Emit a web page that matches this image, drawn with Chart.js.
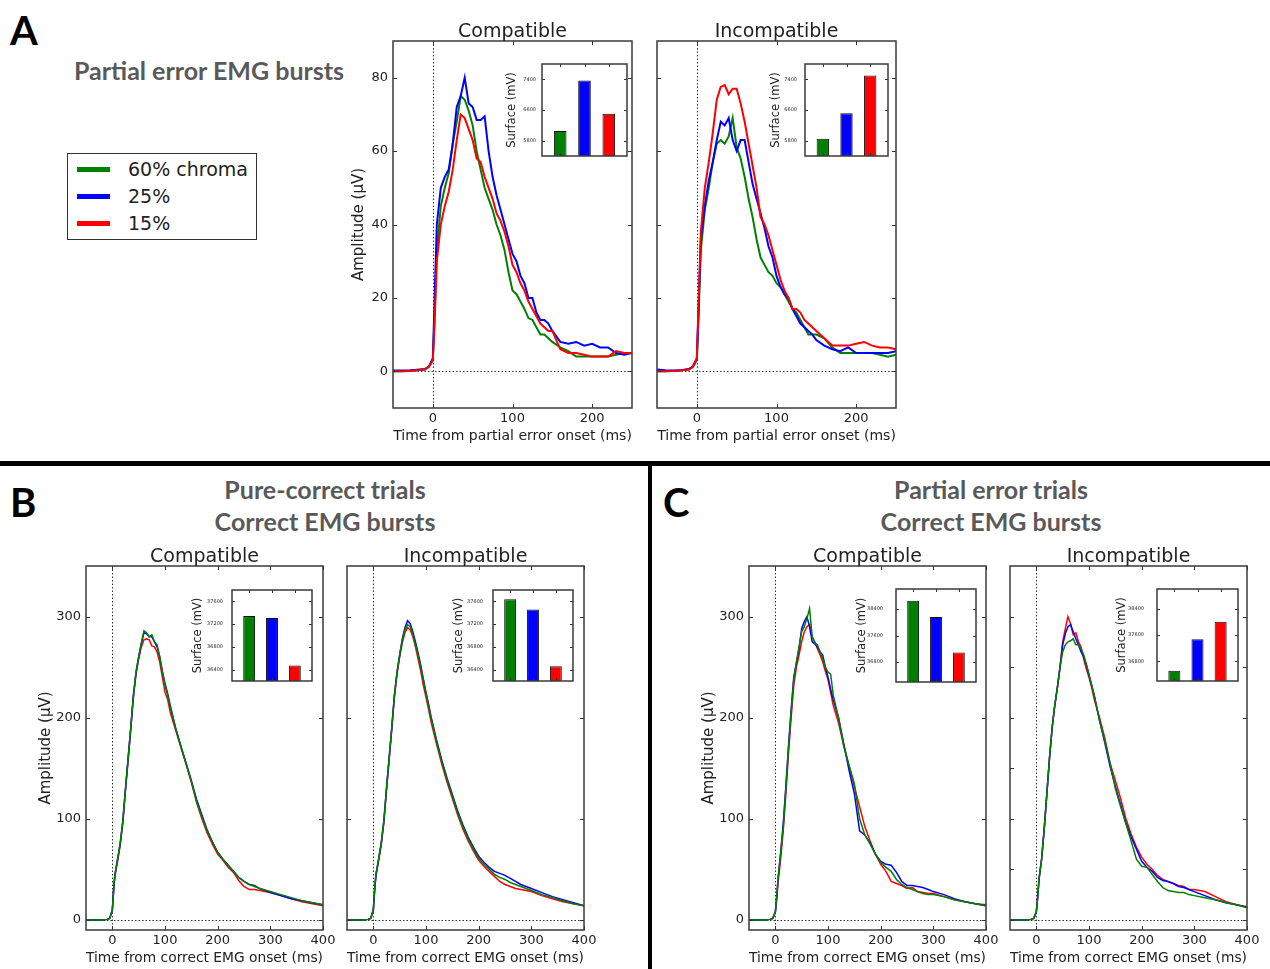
<!DOCTYPE html>
<html>
<head>
<meta charset="utf-8">
<script src="https://cdn.jsdelivr.net/npm/chart.js@4.4.0/dist/chart.umd.min.js"></script>
<style>
  body { margin: 0; background: #fff; width: 1270px; height: 969px; position: relative; overflow: hidden; font-family: 'DejaVu Sans', sans-serif; }
  canvas { position: absolute; }
  .txt { position: absolute; white-space: nowrap; color: #222; transform: translate(-50%, -50%); }
  .letter { position: absolute; font-family: Lato, sans-serif; font-weight: bold; font-size: 40px; color: #000; line-height: 1; }
  .head { position: absolute; white-space: nowrap; font-family: Lato, sans-serif; font-weight: bold; font-size: 25px; color: #595959; transform: translate(-50%, -50%); }
  .bar { position: absolute; background: #000; }
  #legend { position: absolute; left: 67px; top: 153px; width: 188px; height: 85px; border: 1.5px solid #333; }
  .lg { position: absolute; left: 9px; width: 33px; height: 5px; }
  .lt { position: absolute; left: 60px; font-size: 19px; color: #222; transform: translateY(-50%); }
</style>
</head>
<body>

<div class="letter" style="left:10px;top:10px">A</div>
<div class="letter" style="left:10px;top:482px">B</div>
<div class="letter" style="left:663px;top:482px">C</div>

<div class="head" style="left:209px;top:70px">Partial error EMG bursts</div>
<div class="head" style="left:325px;top:489px">Pure-correct trials</div>
<div class="head" style="left:325px;top:521px">Correct EMG bursts</div>
<div class="head" style="left:991px;top:489px">Partial error trials</div>
<div class="head" style="left:991px;top:521px">Correct EMG bursts</div>

<div class="bar" style="left:0;top:461px;width:1270px;height:5px"></div>
<div class="bar" style="left:648px;top:461px;width:4px;height:508px"></div>

<div id="legend"></div>

<script>
// ---- data ----
const conditions = ['60% chroma', '25%', '15%'];
const colors = ['#008000', '#0000ff', '#ff0000'];
const panelTitles = ['Compatible', 'Incompatible'];

// panel A: time (ms) from partial error onset
const tA = [-50,-40,-30,-20,-10,-5,0,2,5,10,15,20,25,30,35,40,45,50,55,60,65,70,75,80,85,90,95,100,105,110,115,120,125,130,135,140,145,150,160,170,180,190,200,210,220,230,240,250];
const aCompGreen = [0,0,0.1,0.3,0.5,1.2,3,14,33,45,50,54,62,68,75,74,71,67,60,55,50,47,44,40,37,33,27,22,21,19,17,14.5,14,12,10,10,9,8,6.5,5.5,4,4,4,4,4,4.5,5,5];
const aCompBlue = [0.2,0.2,0.2,0.4,0.6,1.3,3.5,18,40,50,53,55,62,72,75,80,73,72,68.5,68.5,69.5,60,53,48,44,40,36,32,30,26,24,20,20,16,14,14,13,11,8,7.5,8,7,7.5,6.5,6.5,5,4.5,5];
const aCompRed = [0,0,0.1,0.3,0.5,1.2,3,12,30,40,45,49,55,63,70,69,66,63,58,57,53,50,47,43,41,38,34,29,27,24,22,19,17,15,13,12,11,11,6,5,5,4.5,4,4,4,5.5,5,5];
const aIncGreen = [0,0,0.1,0.3,0.5,1.2,3,14,33,44,50,57,62,63,62,64,69,61,58,53,47,42,36,31,29,27,26,24,23,21,19,17,16,14,12,10,10,10,9,6.5,5,5,5,5,5,4.5,4,4.5];
const aIncBlue = [0.5,0.3,0.2,0.3,0.6,1.3,3.5,16,36,45,52,57,63,68,67,69,63,60,63,63,57,51,47,43,39,34,31,26,23,21,20,17,15,13,12,11,10,8.5,7,6,5.5,6.5,5,5,5,5,5,5.5];
const aIncRed = [0,0,0.1,0.3,0.5,1.2,3.5,17,38,50,57,65,74,77.5,78,75.5,77,77,73,68,62,56,50,42,40,37,33,29,25,22,20,17,17,16,14,13,12,11,9,7,7,7,7.5,8,7,6.5,6.5,6];

// panels B and C: time (ms) from correct EMG onset
const tBC = [-50,-40,-30,-20,-10,-5,0,3,5,10,15,20,25,30,35,40,45,50,55,60,65,70,75,80,85,90,95,100,105,110,120,130,140,150,160,170,180,190,200,210,220,230,240,250,260,270,280,290,300,320,340,360,380,400];
const bCompGreen = [0,0,0,0,0.5,1.5,10,35,45,60,76,98,130,160,190,222,245,260,274,286,284,280,282,275,272,260,245,232,222,210,190,172,155,137,117,102,88,77,67,60,54,48,42,38,35,33,31,29.5,28,25,22,19,17,15];
const bCompBlue = [0,0,0,0,0.5,1.5,10,34,45,60,76,98,130,160,190,222,245,260,273,284,283,280,280,275,270,260,246,234,224,212,190,172,155,138,119,104,89,77,67,60,54,48,42,38,35,34,31,29,27,24,21,19,17,15];
const bCompRed = [0,0,0,0,0.5,1.5,9,32,43,58,74,96,128,158,188,220,243,258,270,277,278,277,271,270,265,255,240,225,218,205,188,171,154,136,116,100,86,75,65,59,52,47,39,33,30,30,29,28,27,24,21,18,16,14];
const bIncGreen = [0,0,0,0,0.5,1.5,10,35,45,60,76,98,130,160,190,222,245,262,277,287,292,290,282,272,262,250,237,224,212,198,176,156,138,122,106,92,80,70,61,55,50,45,42,40,37,35,33,31,29,25,22,19,16,14];
const bIncBlue = [0,0,0,0,0.5,1.5,10,34,45,60,76,98,130,160,190,222,245,262,278,289,296,293,285,275,264,252,238,225,213,200,178,158,140,124,108,94,82,72,63,57,52,48,46,44,41,38,35,33,31,27,23,20,17,14];
const bIncRed = [0,0,0,0,0.5,1.5,9,32,43,58,74,96,128,158,188,220,243,260,274,284,289,287,280,270,258,246,232,220,208,195,174,154,136,120,104,90,78,68,59,53,48,43,38,35,33,31,30,29,28,24,21,18,16,14];
const cCompGreen = [0,0,0,0,0.5,1.5,8,25,40,65,92,130,170,205,238,255,270,285,290,298,308,280,274,272,265,258,250,245,243,222,200,172,153,135,100,84,75,65,57,52,48,40,35,32,30,28,26,25,25,23,20,18,16,14];
const cCompBlue = [0,0,0,0,0.5,1.5,8,25,40,66,95,132,172,208,240,254,268,288,295,300,290,275,273,270,265,262,250,240,228,218,200,174,148,125,88,84,76,65,58,55,54,47,38,34,34,33,32,30,28,25,21,18,16,14];
const cCompRed = [0,0,0,0,0.5,1.5,7,22,36,60,88,125,165,200,232,250,262,275,285,290,292,280,275,268,262,255,246,238,225,212,195,172,152,132,112,92,78,65,55,48,38,36,34,31,32,28,27,26,26,23,20,18,16,15];
const cIncGreen = [0,0,0,0,0.5,1.5,8,25,40,60,90,125,160,190,212,230,250,265,272,275,276,278,272,272,268,262,253,243,232,222,197,177,155,130,112,95,78,60,53,52,45,38,32,29,28,27,27,25,24,22,20,17,15,12];
const cIncBlue = [0,0,0,0,0.5,1.5,8,25,40,60,90,125,160,190,212,230,250,272,283,290,292,285,278,272,265,260,252,242,232,222,197,175,152,132,114,96,82,70,58,52,48,42,39,38,36,33,32,30,28,24,20,17,15,12.5];
const cIncRed = [0,0,0,0,0.5,1.5,8,25,40,60,90,125,160,190,212,230,250,275,288,300,293,282,284,275,270,258,248,240,230,218,200,180,155,138,120,100,85,72,62,55,50,44,40,38,36,34,33,30,30,28,23,18,15,13];

// inset bars: surface (mV) per condition
const surfACompatible = [6050, 7370, 6500];
const surfAIncompatible = [5850, 6515, 7500];
const surfBCompatible = [37343, 37307, 36471];
const surfBIncompatible = [37636, 37457, 36459];
const surfCCompatible = [38646, 38154, 37086];
const surfCIncompatible = [36514, 37468, 38000];

// tick values
const ticksAx = [0, 100, 200];
const ticksAy = [0, 20, 40, 60, 80];
const ticksBCx = [0, 100, 200, 300, 400];
const ticksBCy = [0, 100, 200, 300];
const ticksBCyFine = [0, 50, 100, 150, 200, 250, 300];
const ticksInsetA = [5800, 6600, 7400];
const ticksInsetB = [36400, 36800, 37200, 37600];
const ticksInsetC = [36800, 37600, 38400];

// ---- drawing ----
Chart.defaults.font.family = "'DejaVu Sans', sans-serif";
Chart.defaults.color = '#222';

const framePlugin = {
  id: 'frame',
  beforeDraw(chart, args, o) {
    const { ctx, chartArea: a, scales } = chart;
    if (o.fill) {
      ctx.save();
      ctx.fillStyle = '#fff';
      ctx.fillRect(a.left, a.top, a.right - a.left, a.bottom - a.top);
      ctx.restore();
    }
    if (o.zero) {
      const x0 = Math.round(scales.x.getPixelForValue(0)) + 0.5;
      const y0 = Math.round(scales.y.getPixelForValue(0)) + 0.5;
      ctx.save();
      ctx.strokeStyle = '#333';
      ctx.lineWidth = 1;
      ctx.setLineDash([1.5, 2]);
      ctx.beginPath();
      ctx.moveTo(x0, a.top); ctx.lineTo(x0, a.bottom);
      ctx.moveTo(a.left, y0); ctx.lineTo(a.right, y0);
      ctx.stroke();
      ctx.restore();
    }
  },
  afterDatasetsDraw(chart, args, o) {
    const { ctx, chartArea: a, scales } = chart;
    const len = o.tick || 4;
    ctx.save();
    ctx.strokeStyle = '#333';
    ctx.lineWidth = 1;
    ctx.beginPath();
    (o.xt || []).forEach(v => {
      const px = Math.round(scales.x.getPixelForValue(v)) + 0.5;
      ctx.moveTo(px, a.top); ctx.lineTo(px, a.top + len);
      ctx.moveTo(px, a.bottom); ctx.lineTo(px, a.bottom - len);
    });
    (o.yt || []).forEach(v => {
      const py = Math.round(scales.y.getPixelForValue(v)) + 0.5;
      ctx.moveTo(a.left, py); ctx.lineTo(a.left + len, py);
      ctx.moveTo(a.right, py); ctx.lineTo(a.right - len, py);
    });
    ctx.stroke();
    ctx.strokeStyle = '#3a3a3a';
    ctx.lineWidth = 1.5;
    ctx.strokeRect(a.left, a.top, a.right - a.left, a.bottom - a.top);
    ctx.restore();
  }
};

function addCanvas(left, top, w, h) {
  const cv = document.createElement('canvas');
  cv.width = w; cv.height = h;
  cv.style.left = left + 'px';
  cv.style.top = top + 'px';
  document.body.appendChild(cv);
  return cv;
}

function addText(text, x, y, size) {
  const d = document.createElement('div');
  d.className = 'txt';
  d.style.left = x + 'px';
  d.style.top = y + 'px';
  d.style.fontSize = size + 'px';
  d.textContent = text;
  document.body.appendChild(d);
}

function mainChart(box, o) {
  const yW = o.showY ? o.yW : 4;
  // top padding must exceed the y-axis label overflow so the plot top lands on box[1]
  const pt = 16, pr = 16, xH = 37;
  const left = box[0] - yW, top = box[1] - pt;
  const cv = addCanvas(left, top, box[2] + pr - left, box[3] + xH - top);
  const drawOrder = o.redOnTop ? [2, 1, 0] : [0, 1, 2];
  new Chart(cv, {
    type: 'line',
    data: {
      datasets: o.series.map((s, i) => ({
        label: conditions[i],
        data: o.t.map((t, k) => ({ x: t, y: s[k] })),
        borderColor: colors[i],
        borderWidth: o.lw,
        pointRadius: 0,
        tension: 0,
        order: drawOrder[i]
      }))
    },
    options: {
      responsive: false,
      animation: false,
      events: [],
      layout: { padding: { top: pt, right: pr, left: 0, bottom: 0 }, autoPadding: false },
      plugins: {
        legend: { display: false },
        tooltip: { enabled: false },
        frame: { zero: true, xt: o.xTicks, yt: o.yMarks || o.yTicks, tick: 4 }
      },
      scales: {
        x: {
          type: 'linear', min: o.xMin, max: o.xMax,
          grid: { display: false, drawTicks: false },
          border: { display: false },
          ticks: { padding: 3, font: { size: 13 }, maxRotation: 0, callback: v => String(v) },
          afterBuildTicks: s => { s.ticks = o.xTicks.map(v => ({ value: v })); },
          afterFit: s => { s.height = xH; },
          title: { display: true, text: o.xTitle, font: { size: 14 }, padding: 0 }
        },
        y: {
          type: 'linear', min: o.yMin, max: o.yMax,
          grid: { display: false, drawTicks: false },
          border: { display: false },
          ticks: { display: o.showY, padding: 5, font: { size: 13 }, callback: v => String(v) },
          afterBuildTicks: s => { s.ticks = o.yTicks.map(v => ({ value: v })); },
          afterFit: s => { s.width = yW; },
          title: { display: o.showY, text: 'Amplitude (μV)', font: { size: 15 }, padding: 0 }
        }
      }
    },
    plugins: [framePlugin]
  });
  addText(o.title, (box[0] + box[2]) / 2, box[1] - 11, 19);
}

function insetChart(box, values, o) {
  const pad = 20;
  const left = box[0] - o.yW, top = box[1] - pad;
  const cv = addCanvas(left, top, box[2] + 2 - left, box[3] + pad - top);
  new Chart(cv, {
    type: 'bar',
    data: {
      datasets: [{
        data: values.map((v, i) => ({ x: i, y: v })),
        backgroundColor: colors,
        borderColor: '#111',
        borderWidth: 1,
        borderSkipped: false,
        barPercentage: 0.52,
        categoryPercentage: 1
      }]
    },
    options: {
      responsive: false,
      animation: false,
      events: [],
      layout: { padding: { top: pad, right: 2, left: 0, bottom: pad }, autoPadding: false },
      plugins: {
        legend: { display: false },
        tooltip: { enabled: false },
        frame: { fill: true, xt: [0, 1, 2], yt: o.ticks, tick: 3 }
      },
      scales: {
        x: { type: 'linear', min: -0.75, max: 2.75, offset: false, display: false },
        y: {
          type: 'linear', min: o.min, max: o.max,
          grid: { display: false, drawTicks: false },
          border: { display: false },
          ticks: { padding: o.pad, font: { size: 5 }, callback: v => String(v) },
          afterBuildTicks: s => { s.ticks = o.ticks.map(v => ({ value: v })); },
          afterFit: s => { s.width = o.yW; },
          title: { display: true, text: 'Surface (mV)', font: { size: 11.5 }, padding: 0 }
        }
      }
    },
    plugins: [framePlugin]
  });
}

const aOpts = { t: tA, xMin: -50, xMax: 250, yMin: -10, yMax: 90, xTicks: ticksAx, yTicks: ticksAy, lw: 2, redOnTop: true, xTitle: 'Time from partial error onset (ms)', yW: 43 };
const bcOpts = { t: tBC, xMin: -50, xMax: 400, yMin: -10, yMax: 350, xTicks: ticksBCx, yTicks: ticksBCy, lw: 1.5, redOnTop: false, yW: 49 };

mainChart([393, 41, 632, 408], { ...aOpts, series: [aCompGreen, aCompBlue, aCompRed], showY: true, title: panelTitles[0] });
mainChart([657, 41, 896, 408], { ...aOpts, series: [aIncGreen, aIncBlue, aIncRed], showY: false, title: panelTitles[1] });
mainChart([86, 566, 323, 930], { ...bcOpts, series: [bCompGreen, bCompBlue, bCompRed], showY: true, title: panelTitles[0], xTitle: 'Time from correct EMG onset (ms)' });
mainChart([347, 566, 584, 930], { ...bcOpts, series: [bIncGreen, bIncBlue, bIncRed], showY: false, title: panelTitles[1], xTitle: 'Time from correct EMG onset (ms)' });
mainChart([749, 566, 986, 930], { ...bcOpts, series: [cCompGreen, cCompBlue, cCompRed], showY: true, title: panelTitles[0], xTitle: 'Time from correct EMG onset (ms)' });
mainChart([1010, 566, 1247, 930], { ...bcOpts, series: [cIncGreen, cIncBlue, cIncRed], showY: false, yMarks: ticksBCyFine, title: panelTitles[1], xTitle: 'Time from correct EMG onset (ms)' });

insetChart([542, 64, 627, 156], surfACompatible, { min: 5400, max: 7800, ticks: ticksInsetA, yW: 37, pad: 6 });
insetChart([805, 64, 888, 156], surfAIncompatible, { min: 5400, max: 7800, ticks: ticksInsetA, yW: 36, pad: 8 });
insetChart([232, 590, 312, 681], surfBCompatible, { min: 36200, max: 37800, ticks: ticksInsetB, yW: 41, pad: 9 });
insetChart([493, 590, 573, 681], surfBIncompatible, { min: 36200, max: 37800, ticks: ticksInsetB, yW: 41, pad: 10 });
insetChart([896, 589, 976, 682], surfCCompatible, { min: 36200, max: 39000, ticks: ticksInsetC, yW: 41, pad: 13 });
insetChart([1157, 589, 1238, 681], surfCIncompatible, { min: 36200, max: 39000, ticks: ticksInsetC, yW: 42, pad: 13 });

// legend
const legend = document.getElementById('legend');
conditions.forEach((name, i) => {
  const y = 15 + i * 27;
  const l = document.createElement('div');
  l.className = 'lg';
  l.style.top = (y - 2) + 'px';
  l.style.background = colors[i];
  legend.appendChild(l);
  const t = document.createElement('div');
  t.className = 'lt';
  t.style.top = y + 'px';
  t.textContent = name;
  legend.appendChild(t);
});
</script>
</body>
</html>
